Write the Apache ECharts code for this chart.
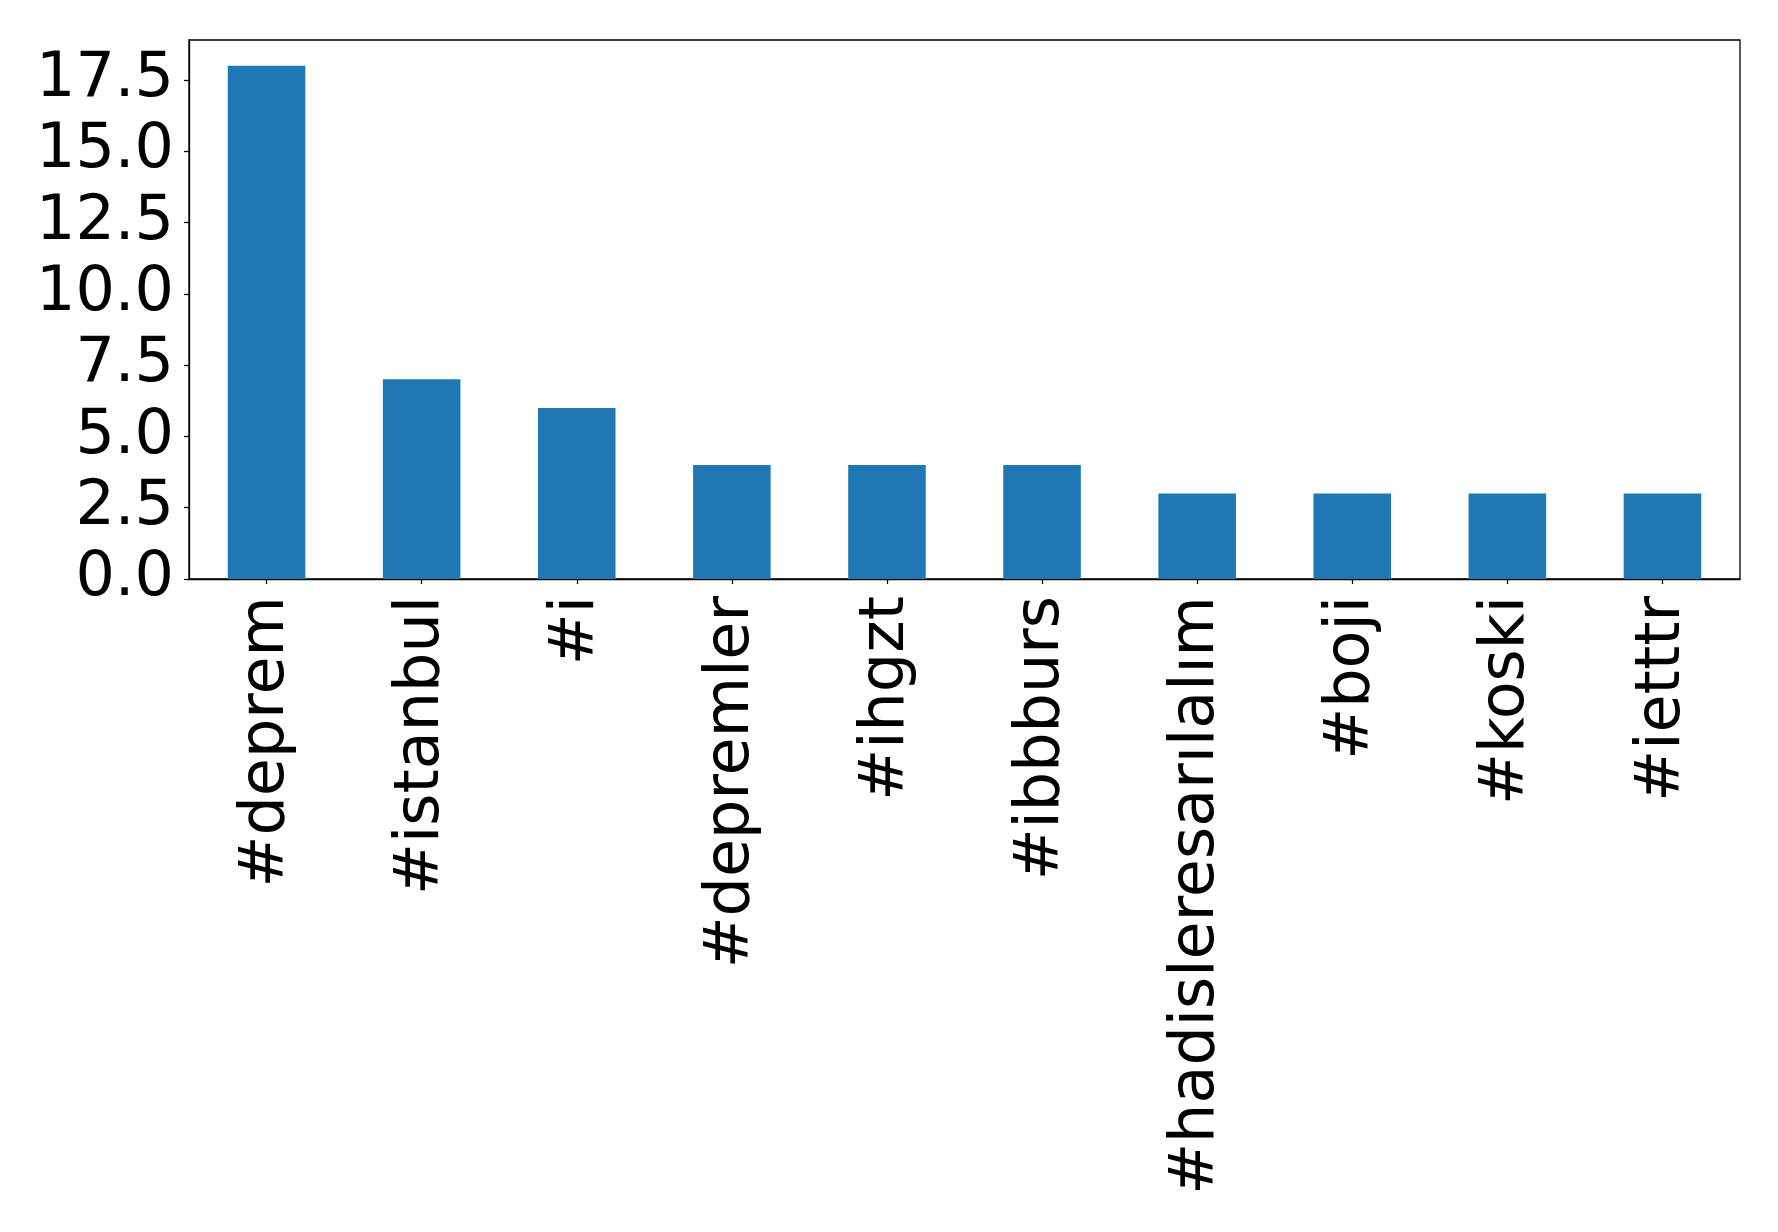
<!DOCTYPE html>
<html>
<head>
<meta charset="utf-8">
<script src="https://cdn.jsdelivr.net/npm/echarts@6/dist/echarts.min.js"></script>
<style>
html,body{margin:0;padding:0;background:#fff;}
#chart{width:1778px;height:1232px;}
</style>
</head>
<body>
<div id="chart"></div>
<script>
const categories = ['#deprem', '#istanbul', '#i', '#depremler', '#ihgzt', '#ibbburs', '#hadisleresarılalım', '#boji', '#koski', '#ietttr'];
const counts = [18, 7, 6, 4, 4, 4, 3, 3, 3, 3];
const yTicks = [0, 2.5, 5, 7.5, 10, 12.5, 15, 17.5];
const yMax = 18.9;

const chart = echarts.init(document.getElementById('chart'), null, {renderer: 'canvas'});
const font = 'DejaVu Sans';
chart.setOption({
  animation: false,
  backgroundColor: '#ffffff',
  grid: {
    left: 189, top: 40, right: 38, bottom: 653,
    show: true, borderColor: '#000', borderWidth: 1.3, backgroundColor: 'transparent'
  },
  xAxis: {
    type: 'category',
    data: categories,
    axisLine: {show: true, lineStyle: {color: '#000', width: 1.3}},
    axisTick: {show: true, alignWithLabel: true, length: 5, lineStyle: {color: '#000', width: 1.3}},
    axisLabel: {
      rotate: 90, margin: 17, color: '#000', fontSize: 62, fontFamily: font, interval: 0
    },
    splitLine: {show: false}
  },
  yAxis: {
    type: 'value',
    min: 0, max: yMax,
    axisLine: {show: true, lineStyle: {color: '#000', width: 1.3}},
    axisTick: {show: true, length: 5, customValues: yTicks, lineStyle: {color: '#000', width: 1.3}},
    axisLabel: {
      customValues: yTicks, margin: 15, color: '#000', fontSize: 62, fontFamily: font,
      formatter: v => Number(v).toFixed(1)
    },
    splitLine: {show: false}
  },
  series: [{
    type: 'bar',
    data: counts,
    barWidth: '50%',
    itemStyle: {color: '#1f77b4'}
  }]
});
</script>
</body>
</html>
